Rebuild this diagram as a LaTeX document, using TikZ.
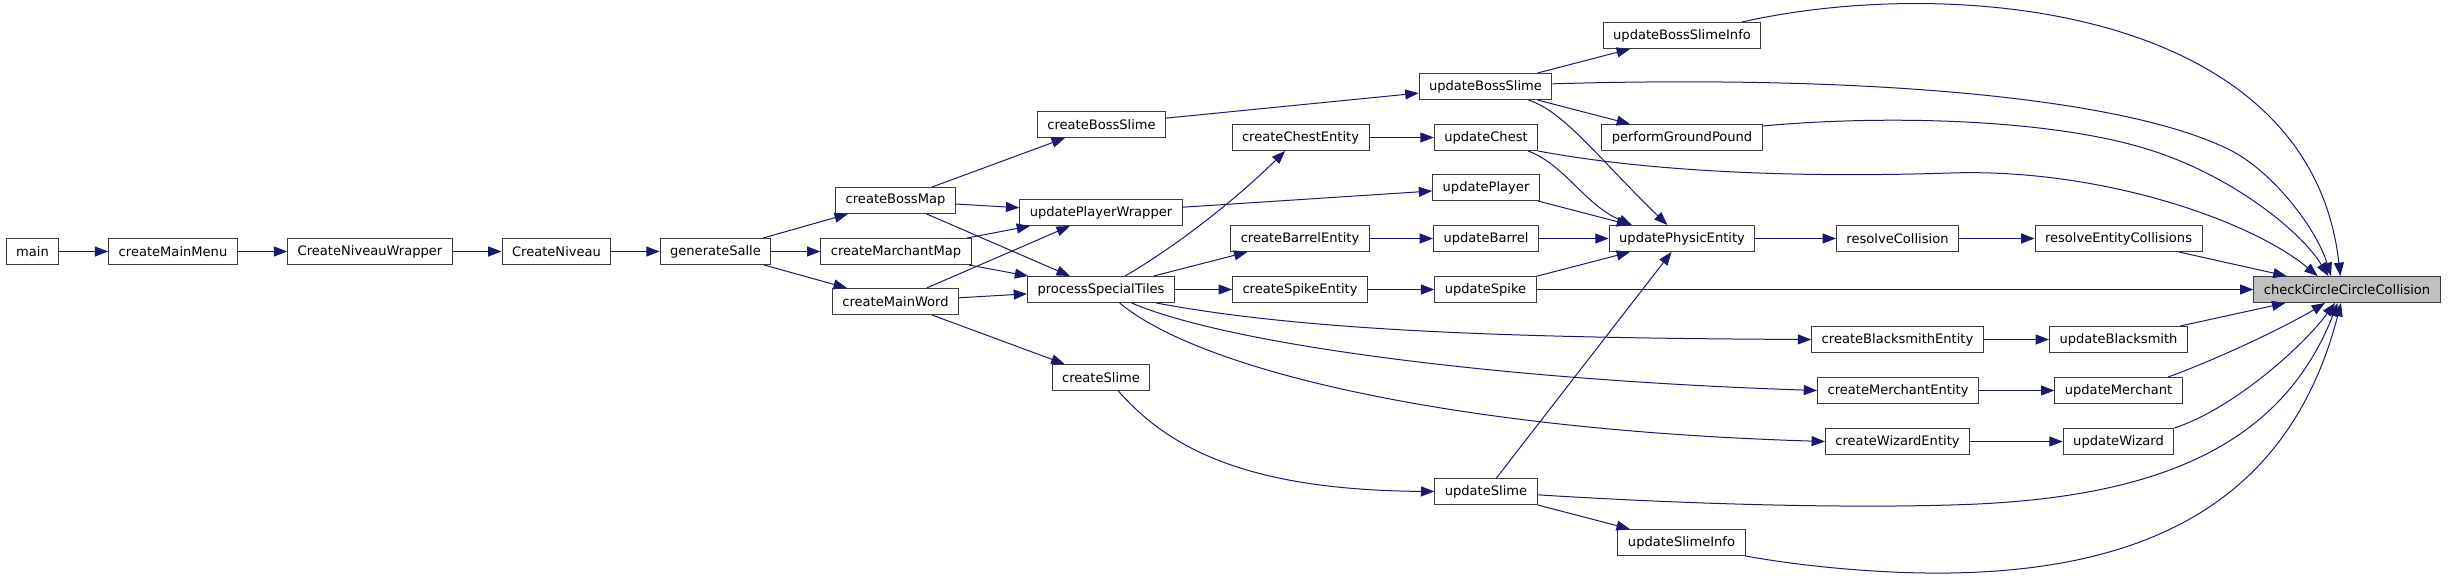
\documentclass[tikz,border=0pt]{standalone}
\usepackage{fontspec}
\setmainfont{DejaVu Sans}
\usepackage{tikz}
\usetikzlibrary{arrows.meta}
\definecolor{edgecol}{HTML}{191970}
\definecolor{curfill}{HTML}{BFBFBF}
\definecolor{nodeline}{HTML}{3C3C3C}

\begin{document}
\begin{tikzpicture}[
        x=0.75pt, y=-0.75pt,
        >={Triangle[length=10pt,width=7.5pt]},
        fn/.style={draw=nodeline, line width=0.75pt, fill=white, text=black,
            inner xsep=7.5pt, inner ysep=0pt, minimum height=19.5pt,
            font=\fontsize{9.8pt}{11pt}\selectfont},
        curfn/.style={fn, fill=curfill},
        call/.style={->, draw=edgecol, line width=0.75pt},
    ]
    \useasboundingbox (0,0) rectangle (2448,578);

    \node[fn] at (32.5,251.5)  (main)     {main};
    \node[fn] at (173,251.5)   (mmenu)    {createMainMenu};
    \node[fn] at (370,251.5)   (nivwrap)  {CreateNiveauWrapper};
    \node[fn] at (556.5,251.5) (niveau)   {CreateNiveau};
    \node[fn] at (715.5,251.5) (salle)    {generateSalle};

    \node[fn] at (895.5,200.5) (bossmap)  {createBossMap};
    \node[fn] at (896,251.5)   (marchmap) {createMarchantMap};
    \node[fn] at (895.5,301.5) (mainword) {createMainWord};

    \node[fn] at (1101.5,124.5) (bossslime) {createBossSlime};
    \node[fn] at (1101,212.5)  (plwrap)   {updatePlayerWrapper};
    \node[fn] at (1101,289.5)  (special)  {processSpecialTiles};
    \node[fn] at (1101,377.5)  (slime)    {createSlime};

    \node[fn] at (1300.5,137.5) (chest)   {createChestEntity};
    \node[fn] at (1300,238.5)  (barrel)   {createBarrelEntity};
    \node[fn] at (1300,289.5)  (spike)    {createSpikeEntity};

    \node[fn] at (1485.5,86.5) (ubs)      {updateBossSlime};
    \node[fn] at (1486,137.5)  (uchest)   {updateChest};
    \node[fn] at (1486,187.5)  (uplayer)  {updatePlayer};
    \node[fn] at (1486,238.5)  (ubarrel)  {updateBarrel};
    \node[fn] at (1485.5,289.5) (uspike)  {updateSpike};
    \node[fn] at (1486,491.5)  (uslime)   {updateSlime};

    \node[fn] at (1682,35.5)   (ubsinfo)  {updateBossSlimeInfo};
    \node[fn] at (1682,137.5)  (ground)   {performGroundPound};
    \node[fn] at (1682,238.5)  (physic)   {updatePhysicEntity};
    \node[fn] at (1681.5,542.5) (uslinfo) {updateSlimeInfo};

    \node[fn] at (1897.5,238.5) (rescol)  {resolveCollision};
    \node[fn] at (1897.5,339.5) (cblack)  {createBlacksmithEntity};
    \node[fn] at (1898,390.5)  (cmerch)   {createMerchantEntity};
    \node[fn] at (1897.5,441.5) (cwiz)    {createWizardEntity};

    \node[fn] at (2118.5,238.5) (resent)  {resolveEntityCollisions};
    \node[fn] at (2118.5,339.5) (ublack)  {updateBlacksmith};
    \node[fn] at (2118.5,390.5) (umerch)  {updateMerchant};
    \node[fn] at (2118.5,441.5) (uwiz)    {updateWizard};

    \node[curfn] at (2347,289.5) (check)  {checkCircleCircleCollision};

    \draw[call] (main) -- (mmenu);
    \draw[call] (mmenu) -- (nivwrap);
    \draw[call] (nivwrap) -- (niveau);
    \draw[call] (niveau) -- (salle);
    \draw[call] (salle) -- (bossmap);
    \draw[call] (salle) -- (marchmap);
    \draw[call] (salle) -- (mainword);

    \draw[call] (bossmap) -- (bossslime);
    \draw[call] (bossmap) -- (plwrap);
    \draw[call] (bossmap) -- (special);
    \draw[call] (marchmap) -- (plwrap);
    \draw[call] (marchmap) -- (special);
    \draw[call] (mainword) -- (plwrap);
    \draw[call] (mainword) -- (special);
    \draw[call] (mainword) -- (slime);

    \draw[call] (bossslime) -- (ubs);
    \draw[call] (plwrap) -- (uplayer);
    \draw[call] ([xshift=18pt]special.north) .. controls (1170,250) and (1230,205) .. ([xshift=-11.5pt]chest.south);
    \draw[call] (special) -- (barrel);
    \draw[call] (special) -- (spike);
    \draw[call] ([xshift=-14pt]special.south east) .. controls (1300,330) and (1500,338) .. (cblack.west);
    \draw[call] ([xshift=23pt]special.south) .. controls (1230,345) and (1500,380) .. (cmerch.west);
    \draw[call] ([xshift=14pt]special.south) .. controls (1200,370) and (1450,430) .. (cwiz.west);
    \draw[call] ([xshift=13pt]slime.south) .. controls (1170,450) and (1250,490) .. (uslime.west);

    \draw[call] (chest) -- (uchest);
    \draw[call] (barrel) -- (ubarrel);
    \draw[call] (spike) -- (uspike);

    \draw[call] (ubs) -- (ubsinfo);
    \draw[call] (ubs) -- (ground);
    \draw[call] ([xshift=-18pt]ubs.south east) .. controls (1565,112) and (1600,160) .. ([xshift=-11pt]physic.north);
    \draw[call] ([xshift=-7.5pt]uchest.south east) .. controls (1565,165) and (1585,205) .. ([xshift=-37.5pt]physic.north);
    \draw[call] (uplayer) -- (physic);
    \draw[call] (ubarrel) -- (physic);
    \draw[call] (uspike) -- (physic);
    \draw[call] (uslime) -- (physic);
    \draw[call] (uslime) -- (uslinfo);

    \draw[call] (physic) -- (rescol);
    \draw[call] (rescol) -- (resent);
    \draw[call] (cblack) -- (ublack);
    \draw[call] (cmerch) -- (umerch);
    \draw[call] (cwiz) -- (uwiz);

    \draw[call] ([xshift=-14.5pt]ubsinfo.north east) .. controls (1950,-25) and (2310,5) .. ([xshift=-5pt]check.north);
    \draw[call] ([yshift=2pt]ubs.east) .. controls (1850,75) and (2120,95) .. (2230,150)
        .. controls (2270,170) and (2315,225) .. ([xshift=-12pt]check.north);
    \draw[call] ([yshift=-1.5pt]ground.north east) .. controls (1880,115) and (2050,118) .. (2150,150)
        .. controls (2230,175) and (2300,230) .. ([xshift=-14pt]check.north);
    \draw[call] (uchest.south east) .. controls (1650,172) and (1800,178) .. (1950,173)
        .. controls (2100,168) and (2250,220) .. ([xshift=-22pt]check.north);
    \draw[call] (resent) -- (check);
    \draw[call] (uspike) -- (check);
    \draw[call] (ublack) -- (check);
    \draw[call] ([xshift=-11pt]umerch.north east) .. controls (2210,362) and (2280,330) .. ([xshift=-16.5pt]check.south);
    \draw[call] (uwiz.north east) .. controls (2230,410) and (2300,350) .. ([xshift=-9pt]check.south);
    \draw[call] ([yshift=-2.5pt]uslime.east) .. controls (1700,505) and (1850,508) .. (1950,505)
        .. controls (2150,500) and (2280,450) .. ([xshift=-7pt]check.south);
    \draw[call] (uslinfo.south east) .. controls (1800,566) and (1880,574) .. (1950,573)
        .. controls (2150,570) and (2290,500) .. ([xshift=-4.5pt]check.south);
\end{tikzpicture}
\end{document}
